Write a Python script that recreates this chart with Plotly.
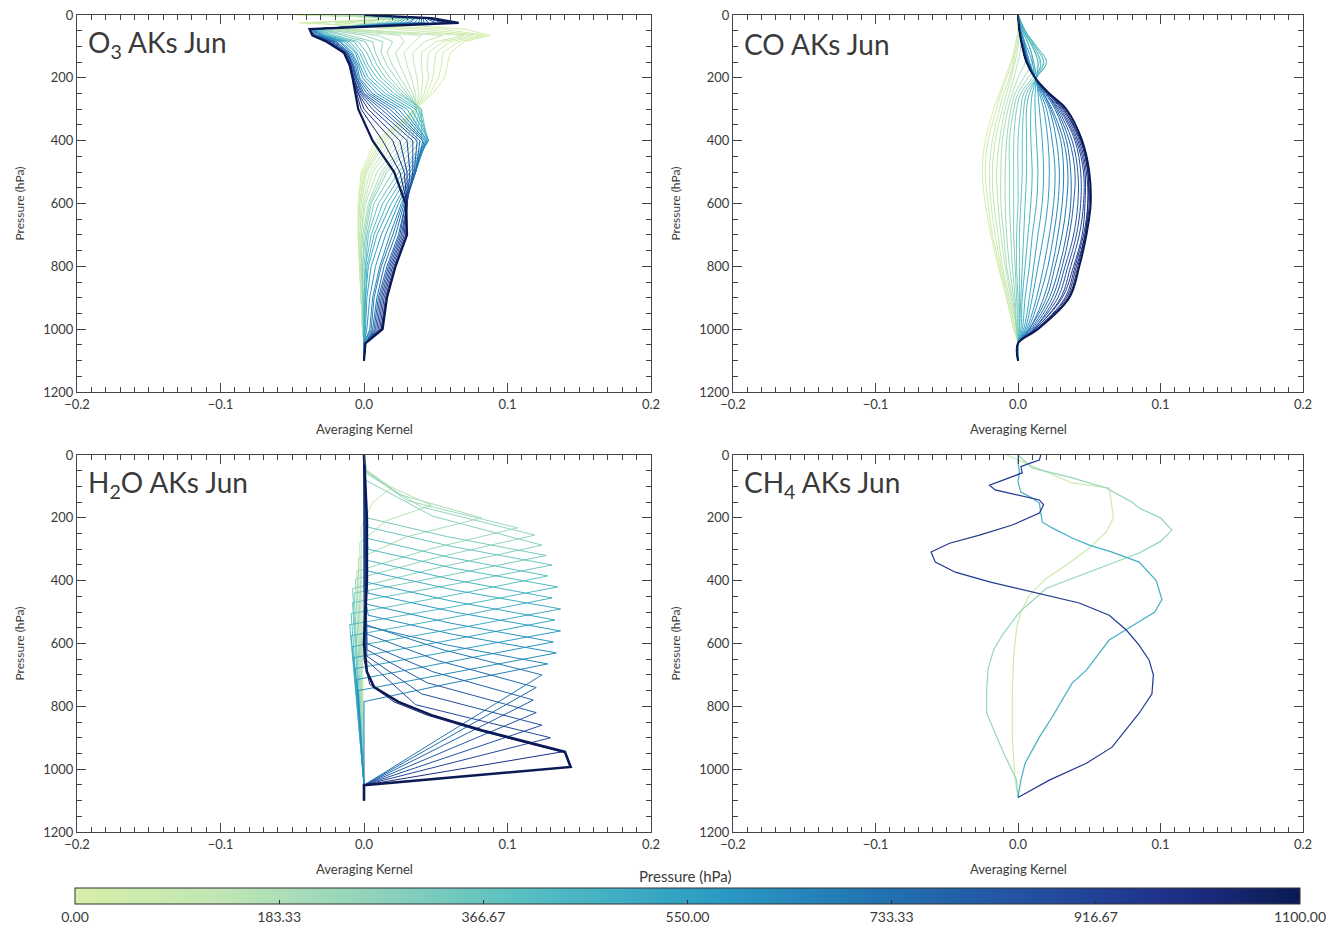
import plotly.graph_objects as go
from plotly.colors import sample_colorscale

# ---------------------------------------------------------------------------
# Colour scale for the retrieval level pressure (hPa)
# ---------------------------------------------------------------------------
LEVEL_MIN, LEVEL_MAX = 0.0, 1100.0
COLORSCALE = [
    [0.00, "#d5efa8"], [0.12, "#c0e6b5"], [0.25, "#8cd2bb"], [0.38, "#52bcc2"],
    [0.52, "#2b9cc4"], [0.66, "#2171b0"], [0.80, "#234a9e"], [0.90, "#1f2f86"],
    [1.00, "#0a1a54"],
]
CBAR_TICKVALS = [0, 183.33, 366.67, 550, 733.33, 916.67, 1100]
CBAR_TICKTEXT = ["0.00", "183.33", "366.67", "550.00", "733.33", "916.67", "1100.00"]

X_TICKS = [-0.2, -0.1, 0.0, 0.1, 0.2]
X_TICK_LABELS = ["\u22120.2", "\u22120.1", "0.0", "0.1", "0.2"]
Y_TICKS = [0, 200, 400, 600, 800, 1000, 1200]
Y_TICK_LABELS = ["0", "200", "400", "600", "800", "1000", "1200"]

# ---------------------------------------------------------------------------
# O3 averaging kernels: one row per retrieval level, on a common pressure grid
# ---------------------------------------------------------------------------
O3_P = [0, 10, 25, 45, 65, 85, 120, 160, 200, 250, 300, 400, 500, 600, 700, 800, 900, 1000, 1045, 1100]
O3_LEVELS = [0, 20, 40, 60, 80, 105, 130, 165, 200, 240, 280, 325, 370, 415, 460, 505, 550, 595,
             640, 685, 730, 775, 820, 865, 910, 955, 1000, 1050, 1100]
O3_AK = [
    [-0.048, 0.035, 0.010, 0.070, 0.088, 0.070, 0.060, 0.058, 0.056, 0.048, 0.036, 0.008, -0.002, -0.004, -0.004, -0.003, -0.002, -0.001, 0.000, 0.000],
    [-0.045, 0.032, -0.020, 0.055, 0.085, 0.066, 0.055, 0.054, 0.052, 0.046, 0.036, 0.010, -0.001, -0.004, -0.004, -0.003, -0.002, -0.001, 0.000, 0.000],
    [-0.040, 0.030, -0.045, 0.040, 0.082, 0.060, 0.050, 0.049, 0.048, 0.044, 0.035, 0.012, 0.000, -0.003, -0.004, -0.003, -0.002, -0.001, 0.000, 0.000],
    [-0.035, 0.025, -0.035, 0.020, 0.076, 0.055, 0.045, 0.044, 0.045, 0.042, 0.036, 0.014, 0.001, -0.003, -0.004, -0.003, -0.002, -0.001, 0.000, 0.000],
    [-0.030, 0.020, -0.020, -0.010, 0.070, 0.050, 0.040, 0.040, 0.041, 0.040, 0.036, 0.016, 0.002, -0.002, -0.003, -0.003, -0.002, -0.001, 0.000, 0.000],
    [-0.025, 0.018, -0.010, -0.015, 0.055, 0.042, 0.034, 0.035, 0.037, 0.038, 0.036, 0.019, 0.004, -0.001, -0.003, -0.002, -0.002, -0.001, 0.000, 0.000],
    [-0.020, 0.015, 0.000, -0.020, 0.040, 0.035, 0.028, 0.030, 0.033, 0.036, 0.036, 0.022, 0.006, 0.000, -0.002, -0.002, -0.002, -0.001, 0.000, 0.000],
    [-0.015, 0.012, 0.005, -0.022, 0.025, 0.028, 0.022, 0.025, 0.029, 0.034, 0.037, 0.026, 0.009, 0.001, -0.002, -0.002, -0.001, -0.001, 0.000, 0.000],
    [-0.010, 0.010, 0.010, -0.025, 0.010, 0.020, 0.016, 0.020, 0.025, 0.032, 0.037, 0.030, 0.012, 0.003, -0.001, -0.002, -0.001, -0.001, 0.000, 0.000],
    [-0.005, 0.015, 0.012, -0.028, 0.000, 0.013, 0.012, 0.016, 0.022, 0.030, 0.039, 0.033, 0.014, 0.004, 0.000, -0.001, -0.001, 0.000, 0.000, 0.000],
    [0.000, 0.020, 0.015, -0.030, -0.010, 0.006, 0.008, 0.012, 0.018, 0.028, 0.040, 0.036, 0.016, 0.005, 0.001, -0.001, -0.001, 0.000, 0.000, 0.000],
    [0.000, 0.022, 0.018, -0.031, -0.015, 0.001, 0.005, 0.009, 0.015, 0.026, 0.040, 0.040, 0.020, 0.007, 0.002, 0.000, 0.000, 0.000, 0.000, 0.000],
    [0.000, 0.025, 0.020, -0.032, -0.020, -0.004, 0.002, 0.006, 0.012, 0.024, 0.040, 0.044, 0.024, 0.010, 0.003, 0.001, 0.000, 0.000, 0.000, 0.000],
    [0.000, 0.028, 0.022, -0.033, -0.023, -0.007, -0.001, 0.003, 0.009, 0.021, 0.038, 0.045, 0.027, 0.013, 0.005, 0.001, 0.000, 0.000, 0.000, 0.000],
    [0.000, 0.030, 0.025, -0.034, -0.025, -0.010, -0.003, 0.001, 0.006, 0.018, 0.036, 0.045, 0.030, 0.016, 0.007, 0.002, 0.001, 0.000, 0.000, 0.000],
    [0.000, 0.032, 0.028, -0.035, -0.027, -0.012, -0.005, -0.001, 0.003, 0.015, 0.033, 0.045, 0.032, 0.019, 0.009, 0.003, 0.001, 0.000, 0.000, 0.000],
    [0.000, 0.035, 0.030, -0.035, -0.028, -0.014, -0.006, -0.003, 0.001, 0.012, 0.030, 0.044, 0.034, 0.022, 0.012, 0.005, 0.002, 0.001, 0.000, 0.000],
    [0.000, 0.036, 0.032, -0.036, -0.029, -0.016, -0.008, -0.004, -0.001, 0.009, 0.027, 0.044, 0.035, 0.024, 0.015, 0.008, 0.004, 0.002, 0.000, 0.000],
    [0.000, 0.038, 0.035, -0.036, -0.030, -0.017, -0.009, -0.005, -0.003, 0.006, 0.024, 0.043, 0.036, 0.026, 0.018, 0.011, 0.006, 0.004, 0.000, 0.000],
    [0.000, 0.039, 0.038, -0.037, -0.031, -0.019, -0.010, -0.006, -0.004, 0.004, 0.021, 0.042, 0.036, 0.027, 0.020, 0.012, 0.007, 0.005, 0.000, 0.000],
    [0.000, 0.040, 0.040, -0.037, -0.032, -0.020, -0.011, -0.007, -0.005, 0.002, 0.018, 0.041, 0.036, 0.028, 0.022, 0.014, 0.009, 0.006, 0.001, 0.000],
    [0.000, 0.041, 0.042, -0.037, -0.033, -0.021, -0.011, -0.008, -0.005, 0.000, 0.015, 0.039, 0.036, 0.029, 0.024, 0.016, 0.010, 0.007, 0.001, 0.000],
    [0.000, 0.042, 0.045, -0.038, -0.034, -0.022, -0.012, -0.008, -0.006, -0.001, 0.012, 0.037, 0.035, 0.029, 0.025, 0.017, 0.011, 0.008, 0.001, 0.000],
    [0.000, 0.043, 0.050, -0.038, -0.034, -0.023, -0.012, -0.008, -0.006, -0.002, 0.009, 0.034, 0.034, 0.030, 0.026, 0.018, 0.012, 0.009, 0.001, 0.000],
    [0.000, 0.044, 0.055, -0.038, -0.035, -0.024, -0.013, -0.009, -0.007, -0.003, 0.006, 0.030, 0.032, 0.030, 0.027, 0.019, 0.013, 0.010, 0.001, 0.000],
    [0.000, 0.045, 0.058, -0.038, -0.035, -0.025, -0.013, -0.009, -0.007, -0.004, 0.003, 0.025, 0.030, 0.030, 0.028, 0.020, 0.014, 0.011, 0.001, 0.000],
    [0.000, 0.045, 0.060, -0.038, -0.036, -0.025, -0.013, -0.009, -0.008, -0.004, 0.000, 0.020, 0.028, 0.030, 0.029, 0.021, 0.015, 0.012, 0.001, 0.000],
    [0.000, 0.046, 0.063, -0.038, -0.036, -0.026, -0.014, -0.010, -0.008, -0.005, -0.002, 0.013, 0.025, 0.030, 0.030, 0.022, 0.016, 0.012, 0.001, 0.000],
    [0.000, 0.047, 0.066, -0.038, -0.036, -0.026, -0.014, -0.010, -0.008, -0.006, -0.004, 0.006, 0.021, 0.029, 0.030, 0.022, 0.016, 0.013, 0.001, 0.000],
]

# ---------------------------------------------------------------------------
# CO averaging kernels
# ---------------------------------------------------------------------------
CO_P = [0, 50, 100, 150, 200, 250, 300, 400, 500, 600, 700, 800, 900, 1000, 1045, 1100]
CO_LEVELS = [0, 37, 75, 112, 150, 187, 225, 262, 300, 337, 375, 412, 450, 487, 525, 562, 600, 637,
             675, 712, 750, 787, 825, 862, 900, 937, 975, 1012, 1050, 1100]
CO_AK = [
    [0.000, 0.000, -0.002, -0.005, -0.009, -0.013, -0.017, -0.023, -0.025, -0.023, -0.019, -0.014, -0.008, -0.003, 0.000, 0.000],
    [0.000, 0.000, -0.002, -0.004, -0.008, -0.012, -0.015, -0.021, -0.023, -0.021, -0.018, -0.013, -0.008, -0.003, 0.000, 0.000],
    [0.000, 0.001, -0.001, -0.003, -0.006, -0.010, -0.013, -0.018, -0.020, -0.019, -0.016, -0.012, -0.007, -0.002, 0.000, 0.000],
    [0.000, 0.001, 0.000, -0.002, -0.005, -0.008, -0.011, -0.016, -0.018, -0.017, -0.014, -0.011, -0.006, -0.002, 0.000, 0.000],
    [0.000, 0.002, 0.002, 0.000, -0.003, -0.006, -0.009, -0.013, -0.015, -0.014, -0.012, -0.009, -0.005, -0.001, 0.000, 0.000],
    [0.000, 0.003, 0.005, 0.005, 0.000, -0.004, -0.007, -0.011, -0.012, -0.012, -0.010, -0.008, -0.004, -0.001, 0.000, 0.000],
    [0.000, 0.004, 0.008, 0.010, 0.004, -0.002, -0.005, -0.008, -0.009, -0.009, -0.008, -0.006, -0.003, -0.001, 0.000, 0.000],
    [0.000, 0.005, 0.010, 0.015, 0.007, 0.000, -0.003, -0.006, -0.006, -0.006, -0.005, -0.004, -0.002, -0.001, 0.000, 0.000],
    [0.000, 0.005, 0.012, 0.018, 0.010, 0.002, -0.001, -0.003, -0.003, -0.003, -0.003, -0.002, -0.001, 0.000, 0.000, 0.000],
    [0.000, 0.005, 0.013, 0.020, 0.012, 0.004, 0.002, 0.000, 0.000, 0.000, -0.001, -0.001, 0.000, 0.000, 0.000, 0.000],
    [0.000, 0.005, 0.013, 0.020, 0.013, 0.006, 0.004, 0.003, 0.003, 0.002, 0.001, 0.001, 0.001, 0.001, 0.000, 0.000],
    [0.000, 0.005, 0.012, 0.018, 0.013, 0.008, 0.006, 0.006, 0.006, 0.005, 0.004, 0.003, 0.002, 0.001, 0.000, 0.000],
    [0.000, 0.004, 0.011, 0.016, 0.013, 0.010, 0.009, 0.009, 0.010, 0.009, 0.007, 0.005, 0.003, 0.002, 0.000, 0.000],
    [0.000, 0.004, 0.010, 0.014, 0.013, 0.012, 0.012, 0.013, 0.014, 0.013, 0.010, 0.008, 0.005, 0.003, 0.000, 0.000],
    [0.000, 0.003, 0.008, 0.011, 0.013, 0.014, 0.015, 0.017, 0.018, 0.017, 0.014, 0.011, 0.008, 0.004, 0.000, 0.000],
    [0.000, 0.002, 0.006, 0.010, 0.012, 0.015, 0.018, 0.021, 0.022, 0.021, 0.018, 0.014, 0.010, 0.005, 0.000, 0.000],
    [0.000, 0.002, 0.005, 0.008, 0.012, 0.016, 0.020, 0.024, 0.026, 0.025, 0.022, 0.018, 0.013, 0.006, 0.000, 0.000],
    [0.000, 0.002, 0.005, 0.008, 0.012, 0.017, 0.022, 0.027, 0.029, 0.028, 0.025, 0.021, 0.015, 0.007, 0.000, 0.000],
    [0.000, 0.001, 0.004, 0.007, 0.012, 0.018, 0.023, 0.030, 0.032, 0.031, 0.028, 0.024, 0.018, 0.008, 0.000, 0.000],
    [0.000, 0.001, 0.004, 0.007, 0.012, 0.018, 0.024, 0.032, 0.035, 0.034, 0.031, 0.026, 0.020, 0.008, 0.000, 0.000],
    [0.000, 0.001, 0.004, 0.007, 0.012, 0.019, 0.026, 0.034, 0.037, 0.037, 0.034, 0.029, 0.022, 0.009, 0.000, 0.000],
    [0.000, 0.001, 0.004, 0.007, 0.012, 0.020, 0.027, 0.036, 0.040, 0.039, 0.036, 0.031, 0.024, 0.010, 0.000, 0.000],
    [0.000, 0.001, 0.003, 0.006, 0.012, 0.020, 0.028, 0.038, 0.042, 0.042, 0.039, 0.033, 0.026, 0.011, 0.000, 0.000],
    [0.000, 0.001, 0.003, 0.006, 0.012, 0.020, 0.029, 0.040, 0.044, 0.044, 0.041, 0.035, 0.028, 0.011, 0.000, 0.000],
    [0.000, 0.001, 0.003, 0.006, 0.012, 0.021, 0.030, 0.041, 0.046, 0.046, 0.043, 0.037, 0.030, 0.012, 0.000, 0.000],
    [0.000, 0.001, 0.003, 0.006, 0.012, 0.021, 0.031, 0.042, 0.047, 0.047, 0.045, 0.039, 0.031, 0.012, 0.000, 0.000],
    [0.000, 0.001, 0.003, 0.006, 0.012, 0.021, 0.032, 0.043, 0.048, 0.049, 0.046, 0.040, 0.033, 0.013, 0.000, 0.000],
    [0.000, 0.001, 0.003, 0.006, 0.012, 0.022, 0.032, 0.044, 0.049, 0.049, 0.047, 0.041, 0.034, 0.013, 0.000, 0.000],
    [0.000, 0.001, 0.003, 0.006, 0.012, 0.022, 0.033, 0.044, 0.049, 0.050, 0.047, 0.042, 0.035, 0.014, 0.000, 0.000],
    [0.000, 0.001, 0.003, 0.006, 0.012, 0.022, 0.034, 0.045, 0.050, 0.051, 0.048, 0.043, 0.036, 0.014, 0.000, 0.000],
]

# ---------------------------------------------------------------------------
# H2O averaging kernels: each row carries its own pressure points
# ---------------------------------------------------------------------------
H2O_LEVELS = [100, 160, 200, 232, 255, 287, 320, 350, 385, 420, 455, 490, 525, 560, 595, 630, 665,
              700, 740, 780, 820, 860, 900, 1000, 1100]
H2O_P = [
    [0, 45, 75, 105, 150, 230, 1051, 1100],
    [0, 45, 100, 160, 210, 280, 1051, 1100],
    [0, 50, 125, 200, 260, 330, 1051, 1100],
    [0, 55, 145, 232, 300, 370, 1051, 1100],
    [0, 60, 165, 255, 325, 395, 1051, 1100],
    [0, 80, 195, 287, 355, 425, 1051, 1100],
    [0, 150, 200, 260, 320, 380, 440, 1051, 1100],
    [0, 180, 230, 290, 350, 410, 470, 1051, 1100],
    [0, 215, 265, 325, 385, 445, 505, 1051, 1100],
    [0, 250, 300, 360, 420, 480, 540, 1051, 1100],
    [0, 285, 335, 395, 455, 515, 575, 1051, 1100],
    [0, 320, 370, 430, 490, 550, 610, 1051, 1100],
    [0, 355, 405, 465, 525, 585, 645, 1051, 1100],
    [0, 390, 440, 500, 560, 620, 680, 1051, 1100],
    [0, 425, 475, 535, 595, 655, 715, 1051, 1100],
    [0, 460, 510, 570, 630, 690, 750, 1051, 1100],
    [0, 495, 545, 605, 665, 725, 785, 1051, 1100],
    [0, 540, 620, 700, 1051, 1100],
    [0, 570, 655, 740, 1051, 1100],
    [0, 600, 690, 780, 1051, 1100],
    [0, 620, 725, 820, 1051, 1100],
    [0, 640, 760, 860, 1051, 1100],
    [0, 650, 795, 900, 1051, 1100],
    [0, 650, 730, 786, 828, 876, 915, 945, 1051, 1100],
    [0, 200, 400, 600, 690, 739, 786, 828, 876, 917, 945, 993, 1051, 1100],
]
H2O_AK = [
    [0.000, 0.000, 0.008, 0.019, 0.006, -0.002, 0.000, 0.000],
    [0.000, 0.001, 0.018, 0.047, 0.015, -0.003, 0.000, 0.000],
    [0.000, 0.002, 0.024, 0.082, 0.030, -0.004, 0.000, 0.000],
    [0.000, 0.002, 0.030, 0.107, 0.045, -0.005, 0.000, 0.000],
    [0.000, 0.002, 0.040, 0.119, 0.052, -0.006, 0.000, 0.000],
    [0.000, 0.001, 0.048, 0.124, 0.055, -0.008, 0.000, 0.000],
    [0.000, 0.001, 0.002, 0.058, 0.127, 0.062, -0.007, 0.000, 0.000],
    [0.000, 0.001, 0.003, 0.060, 0.131, 0.064, -0.008, 0.000, 0.000],
    [0.000, 0.000, 0.002, 0.059, 0.128, 0.063, -0.009, 0.000, 0.000],
    [0.000, 0.001, 0.003, 0.062, 0.135, 0.066, -0.010, 0.000, 0.000],
    [0.000, 0.001, 0.002, 0.060, 0.131, 0.064, -0.009, 0.000, 0.000],
    [0.000, 0.000, 0.003, 0.063, 0.137, 0.067, -0.008, 0.000, 0.000],
    [0.000, 0.001, 0.002, 0.061, 0.133, 0.065, -0.007, 0.000, 0.000],
    [0.000, 0.001, 0.003, 0.063, 0.137, 0.066, -0.006, 0.000, 0.000],
    [0.000, 0.000, 0.002, 0.060, 0.132, 0.064, -0.005, 0.000, 0.000],
    [0.000, 0.001, 0.003, 0.061, 0.134, 0.065, -0.004, 0.000, 0.000],
    [0.000, 0.001, 0.002, 0.058, 0.128, 0.062, 0.000, 0.000, 0.000],
    [0.000, 0.001, 0.055, 0.124, 0.000, 0.000],
    [0.000, 0.002, 0.052, 0.120, 0.000, 0.000],
    [0.000, 0.002, 0.048, 0.118, 0.000, 0.000],
    [0.000, 0.002, 0.044, 0.120, 0.000, 0.000],
    [0.000, 0.002, 0.040, 0.124, 0.000, 0.000],
    [0.000, 0.001, 0.036, 0.130, 0.000, 0.000],
    [0.000, 0.000, 0.004, 0.021, 0.044, 0.079, 0.112, 0.138, 0.000, 0.000],
    [0.000, 0.002, 0.002, 0.000, 0.002, 0.007, 0.024, 0.047, 0.082, 0.117, 0.140, 0.144, 0.000, 0.000],
]

# ---------------------------------------------------------------------------
# CH4 averaging kernels
# ---------------------------------------------------------------------------
CH4_LEVELS = [60, 250, 480, 950]
CH4_P = [
    [0, 25, 41, 89, 105, 159, 200, 245, 296, 350, 392, 446, 500, 551, 637, 750, 900, 1035, 1090],
    [0, 41, 73, 105, 150, 169, 200, 239, 275, 312, 424, 500, 573, 620, 680, 750, 822, 939, 1035, 1090],
    [0, 25, 54, 86, 118, 137, 153, 185, 213, 232, 264, 287, 309, 341, 400, 460, 500, 550, 589, 685,
     726, 834, 898, 981, 1035, 1090],
    [0, 16, 25, 37, 57, 96, 111, 143, 159, 185, 223, 255, 281, 309, 341, 373, 404, 440, 471, 510,
     557, 605, 653, 700, 760, 822, 930, 981, 1035, 1090],
]
CH4_AK = [
    [-0.008, 0.005, 0.012, 0.038, 0.064, 0.066, 0.067, 0.062, 0.050, 0.034, 0.020, 0.008, 0.002, -0.001,
     -0.003, -0.004, -0.004, -0.002, 0.000],
    [0.000, 0.010, 0.038, 0.062, 0.080, 0.085, 0.100, 0.108, 0.100, 0.085, 0.020, 0.001, -0.011, -0.017,
     -0.021, -0.022, -0.022, -0.011, -0.001, 0.000],
    [0.000, 0.000, 0.001, 0.000, 0.002, 0.010, 0.015, 0.016, 0.017, 0.024, 0.038, 0.050, 0.066, 0.085,
     0.097, 0.101, 0.096, 0.078, 0.064, 0.048, 0.038, 0.024, 0.015, 0.005, 0.002, 0.000],
    [0.016, 0.015, 0.009, 0.002, 0.003, -0.020, -0.016, 0.015, 0.018, 0.015, -0.004, -0.027, -0.048,
     -0.061, -0.058, -0.044, -0.020, 0.015, 0.043, 0.064, 0.076, 0.085, 0.092, 0.095, 0.094, 0.085,
     0.066, 0.048, 0.022, 0.000],
]

PANEL_TITLES = ["O<sub>3</sub> AKs Jun", "CO AKs Jun", "H<sub>2</sub>O AKs Jun", "CH<sub>4</sub> AKs Jun"]

# ---------------------------------------------------------------------------
# Figure layout (pixel geometry of the four plot areas)
# ---------------------------------------------------------------------------
W, H = 1330, 929
FONT = "Lato, 'Open Sans', sans-serif"
TEXT = "#3a3a3a"
# (left, right, top, bottom) in pixels
BOXES = [(77, 651, 15, 392), (733, 1303, 15, 392), (77, 651, 455, 832), (733, 1303, 455, 832)]


def level_color(level):
    return sample_colorscale(COLORSCALE, [(level - LEVEL_MIN) / (LEVEL_MAX - LEVEL_MIN)])[0]


fig = go.Figure()


def add_curves(axis_idx, levels, p_rows, x_rows, width, dark_width=None, shape="linear"):
    xa = "x" if axis_idx == 1 else f"x{axis_idx}"
    ya = "y" if axis_idx == 1 else f"y{axis_idx}"
    n = len(levels)
    for i, (lev, p, x) in enumerate(zip(levels, p_rows, x_rows)):
        w = dark_width if (dark_width and i == n - 1) else width
        fig.add_trace(go.Scatter(
            x=x, y=p, mode="lines", xaxis=xa, yaxis=ya,
            line=dict(color=level_color(lev), width=w, shape=shape),
            hoverinfo="skip", showlegend=False,
        ))


add_curves(1, O3_LEVELS, [O3_P] * len(O3_LEVELS), O3_AK, 1.0, dark_width=2.2)
add_curves(2, CO_LEVELS, [CO_P] * len(CO_LEVELS), CO_AK, 1.0, dark_width=2.0, shape="spline")
add_curves(3, H2O_LEVELS, H2O_P, H2O_AK, 1.0, dark_width=2.6)
add_curves(4, CH4_LEVELS, CH4_P, CH4_AK, 1.2)

# Invisible carrier trace for the shared horizontal colour bar
fig.add_trace(go.Scatter(
    x=[0, 0], y=[-500, -500], mode="markers", xaxis="x", yaxis="y",
    marker=dict(
        color=[LEVEL_MIN, LEVEL_MAX], colorscale=COLORSCALE, cmin=LEVEL_MIN, cmax=LEVEL_MAX,
        size=1, showscale=True,
        colorbar=dict(
            orientation="h", x=687.5 / W, xanchor="center", y=1 - 888 / H, yanchor="top",
            lenmode="pixels", len=1225, thicknessmode="pixels", thickness=16,
            outlinewidth=1, outlinecolor="#333", xpad=0, ypad=0,
            tickmode="array", tickvals=CBAR_TICKVALS, ticktext=CBAR_TICKTEXT,
            ticks="inside", ticklen=4, tickcolor="#333",
            tickfont=dict(family=FONT, size=14, color=TEXT),
        ),
    ),
    hoverinfo="skip", showlegend=False,
))

layout = dict(
    width=W, height=H, margin=dict(l=0, r=0, t=0, b=0, autoexpand=False),
    paper_bgcolor="white", plot_bgcolor="white",
    font=dict(family=FONT, color=TEXT), showlegend=False,
)
annotations = []
for i, (l, r, t, b) in enumerate(BOXES, start=1):
    sfx = "" if i == 1 else str(i)
    common = dict(showgrid=False, zeroline=False, showline=True, linecolor="#444", linewidth=1,
                  mirror="ticks", ticks="inside", ticklen=9, tickwidth=1, tickcolor="#444",
                  tickfont=dict(family=FONT, size=13, color=TEXT), fixedrange=True)
    layout[f"xaxis{sfx}"] = dict(
        domain=[l / W, r / W], anchor=f"y{sfx}", range=[-0.2, 0.2],
        tickmode="array", tickvals=X_TICKS, ticktext=X_TICK_LABELS,
        minor=dict(tickmode="linear", tick0=0, dtick=0.01, ticks="inside", ticklen=5,
                   tickwidth=1, tickcolor="#444"),
        **common)
    layout[f"yaxis{sfx}"] = dict(
        domain=[1 - b / H, 1 - t / H], anchor=f"x{sfx}", range=[1200, 0],
        tickmode="array", tickvals=Y_TICKS, ticktext=Y_TICK_LABELS,
        minor=dict(tickmode="linear", tick0=0, dtick=50, ticks="inside", ticklen=5,
                   tickwidth=1, tickcolor="#444"),
        **common)
    # panel title
    annotations.append(dict(text=PANEL_TITLES[i - 1], xref="paper", yref="paper",
                            x=(l + 9) / W, y=1 - (t + 29) / H, xanchor="left", yanchor="middle",
                            showarrow=False, font=dict(family=FONT, size=28, color=TEXT)))
    # axis titles
    annotations.append(dict(text="Averaging Kernel", xref="paper", yref="paper",
                            x=(l + r) / 2 / W, y=1 - (b + 37) / H, xanchor="center", yanchor="middle",
                            showarrow=False, font=dict(family=FONT, size=13, color=TEXT)))
    annotations.append(dict(text="Pressure (hPa)", xref="paper", yref="paper",
                            x=(l - 58) / W, y=1 - (t + b) / 2 / H, xanchor="center", yanchor="middle",
                            textangle=-90, showarrow=False, font=dict(family=FONT, size=12, color=TEXT)))

# colour bar title
annotations.append(dict(text="Pressure (hPa)", xref="paper", yref="paper", x=685 / W, y=1 - 876 / H,
                        xanchor="center", yanchor="middle", showarrow=False,
                        font=dict(family=FONT, size=15, color=TEXT)))
layout["annotations"] = annotations
fig.update_layout(**layout)

fig.write_html("out.html")
